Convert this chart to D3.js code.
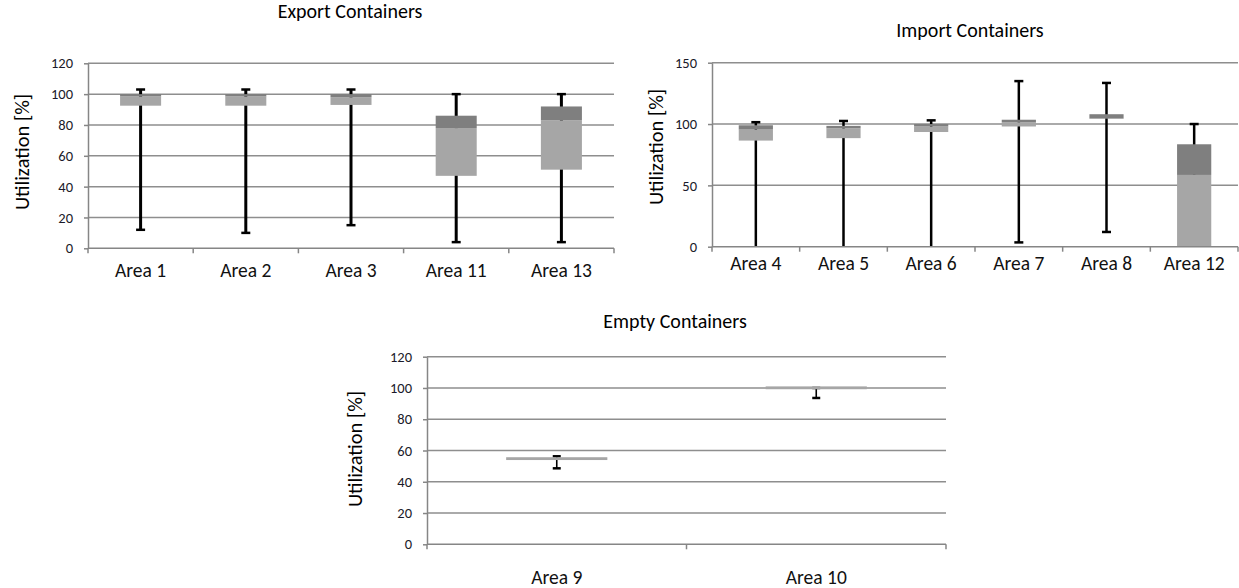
<!DOCTYPE html>
<html>
<head>
<meta charset="utf-8">
<script src="https://cdn.jsdelivr.net/npm/d3@7/dist/d3.min.js"></script>
<style>
  html, body { margin: 0; padding: 0; background: #fff; }
  svg { display: block; }
  text { font-family: Carlito, Lato, "Open Sans", sans-serif; }
</style>
</head>
<body>
<svg id="chart" width="1239" height="588"></svg>
<script>
// ---------- DATA ----------
const exportCategories = ["Area 1", "Area 2", "Area 3", "Area 11", "Area 13"];
const exportMin    = [12, 10, 15, 4, 4];
const exportQ1     = [92.5, 92.5, 93, 47, 51];
const exportMedian = [98.5, 98.5, 98, 78, 83];
const exportQ3     = [100, 100, 100, 86, 92];
const exportMax    = [103, 103, 103, 100, 100];
const exportTicks  = [0, 20, 40, 60, 80, 100, 120];

const importCategories = ["Area 4", "Area 5", "Area 6", "Area 7", "Area 8", "Area 12"];
const importMin    = [0, 0, 0, 3.5, 12, 0];
const importQ1     = [86.5, 88.5, 93.5, 98, 104.2, 0];
const importMedian = [95.5, 96.5, 98, 101.5, 104.5, 58.5];
const importQ3     = [99, 98.5, 100, 103.5, 108, 83.5];
const importMax    = [101.5, 102.5, 103, 135, 133.5, 100];
const importTicks  = [0, 50, 100, 150];

const emptyCategories = ["Area 9", "Area 10"];
const emptyMin    = [48.6, 93.6];
const emptyQ1     = [53.9, 99.2];
const emptyMedian = [55.7, 101];
const emptyQ3     = [55.7, 101];
const emptyMax    = [56.3, 100];
const emptyTicks  = [0, 20, 40, 60, 80, 100, 120];

const titles = ["Export Containers", "Import Containers", "Empty Containers"];
const yAxisTitle = "Utilization [%]";

// ---------- LAYOUT ----------
const svg = d3.select("#chart");
const LIGHT = "#a6a6a6", DARK = "#7f7f7f", GRID = "#8e8e8e", AXIS = "#868686";

function zip(cats, mn, q1, md, q3, mx) {
  return cats.map((c, i) => ({ cat: c, min: mn[i], q1: q1[i], med: md[i], q3: q3[i], max: mx[i] }));
}

const charts = [
  { title: titles[0], data: zip(exportCategories, exportMin, exportQ1, exportMedian, exportQ3, exportMax),
    ticks: exportTicks, x0: 88, x1: 614, yBottom: 248.3, yTop: 63.3,
    titleX: 350, titleY: 18, axTitleX: 22, axTitleY: 152, labelY: 277, whisker: 3, capW: 9 },
  { title: titles[1], data: zip(importCategories, importMin, importQ1, importMedian, importQ3, importMax),
    ticks: importTicks, x0: 712, x1: 1238, yBottom: 246.7, yTop: 62.7,
    titleX: 970, titleY: 37, axTitleX: 656, axTitleY: 147, labelY: 270, whisker: 2.5, capW: 9 },
  { title: titles[2], data: zip(emptyCategories, emptyMin, emptyQ1, emptyMedian, emptyQ3, emptyMax),
    ticks: emptyTicks, x0: 427, x1: 946, yBottom: 544.3, yTop: 356.7,
    titleX: 675, titleY: 328, axTitleX: 355, axTitleY: 449, labelY: 584, whisker: 1.6, capW: 8 }
];

charts.forEach(ch => {
  const g = svg.append("g");
  const x = d3.scaleBand().domain(ch.data.map(d => d.cat)).range([ch.x0, ch.x1]);
  const y = d3.scaleLinear().domain([0, d3.max(ch.ticks)]).range([ch.yBottom, ch.yTop]);

  // gridlines
  g.append("g").selectAll("line").data(ch.ticks.filter(t => t > 0)).join("line")
    .attr("x1", ch.x0).attr("x2", ch.x1)
    .attr("y1", d => y(d)).attr("y2", d => y(d))
    .attr("stroke", GRID).attr("stroke-width", 1.5);

  // y axis
  const ya = g.append("g").attr("transform", `translate(${ch.x0},0)`)
    .call(d3.axisLeft(y).tickValues(ch.ticks).tickSize(4).tickPadding(11).tickSizeOuter(0));
  ya.select(".domain").attr("stroke", AXIS).attr("stroke-width", 1.5);
  ya.selectAll(".tick line").attr("stroke", AXIS).attr("stroke-width", 1.5);
  ya.selectAll(".tick text").attr("font-size", 14.5).attr("fill", "#1a1a2a")
    .style("font-family", "Carlito, Lato, 'Open Sans', sans-serif");

  // category labels
  g.append("g").selectAll("text").data(ch.data).join("text")
    .attr("x", d => x(d.cat) + x.bandwidth() / 2)
    .attr("y", ch.labelY)
    .attr("text-anchor", "middle")
    .attr("font-size", 19.5).attr("fill", "#111")
    .text(d => d.cat);

  const bw = x.bandwidth() * 0.39;
  const cx = d => x(d.cat) + x.bandwidth() / 2;

  // whiskers
  const wg = g.append("g").attr("stroke", "#000").attr("stroke-width", ch.whisker);
  wg.selectAll(".stem").data(ch.data).join("line").attr("class", "stem")
    .attr("x1", cx).attr("x2", cx).attr("y1", d => y(d.min)).attr("y2", d => y(d.max));
  wg.selectAll(".capTop").data(ch.data).join("line").attr("class", "capTop")
    .attr("x1", d => cx(d) - ch.capW / 2).attr("x2", d => cx(d) + ch.capW / 2)
    .attr("y1", d => y(d.max)).attr("y2", d => y(d.max)).attr("stroke-width", 2.5);
  wg.selectAll(".capBot").data(ch.data.filter(d => d.min > 0)).join("line").attr("class", "capBot")
    .attr("x1", d => cx(d) - ch.capW / 2).attr("x2", d => cx(d) + ch.capW / 2)
    .attr("y1", d => y(d.min)).attr("y2", d => y(d.min)).attr("stroke-width", 2.5);

  // boxes: lower (Q1-median) light, upper (median-Q3) dark
  g.append("g").selectAll("rect").data(ch.data).join("rect")
    .attr("x", d => cx(d) - bw / 2).attr("width", bw)
    .attr("y", d => y(d.med)).attr("height", d => y(d.q1) - y(d.med))
    .attr("fill", LIGHT);
  g.append("g").selectAll("rect").data(ch.data).join("rect")
    .attr("x", d => cx(d) - bw / 2).attr("width", bw)
    .attr("y", d => y(d.q3)).attr("height", d => y(d.med) - y(d.q3))
    .attr("fill", DARK);

  // x axis line + boundary ticks (drawn on top)
  g.append("line").attr("x1", ch.x0).attr("x2", ch.x1)
    .attr("y1", y(0)).attr("y2", y(0)).attr("stroke", AXIS).attr("stroke-width", 1.5);
  const bounds = ch.data.map(d => x(d.cat)).concat([ch.x1]);
  g.append("g").selectAll("line").data(bounds).join("line")
    .attr("x1", d => d).attr("x2", d => d)
    .attr("y1", y(0)).attr("y2", y(0) + 5)
    .attr("stroke", AXIS).attr("stroke-width", 1.5);

  // titles
  g.append("text").attr("x", ch.titleX).attr("y", ch.titleY)
    .attr("text-anchor", "middle").attr("font-size", 20).attr("fill", "#000")
    .text(ch.title);
  g.append("text")
    .attr("transform", `translate(${ch.axTitleX},${ch.axTitleY}) rotate(-90)`)
    .attr("text-anchor", "middle").attr("dominant-baseline", "central")
    .attr("font-size", 20.5).attr("fill", "#000")
    .text(yAxisTitle);
});
</script>
</body>
</html>
